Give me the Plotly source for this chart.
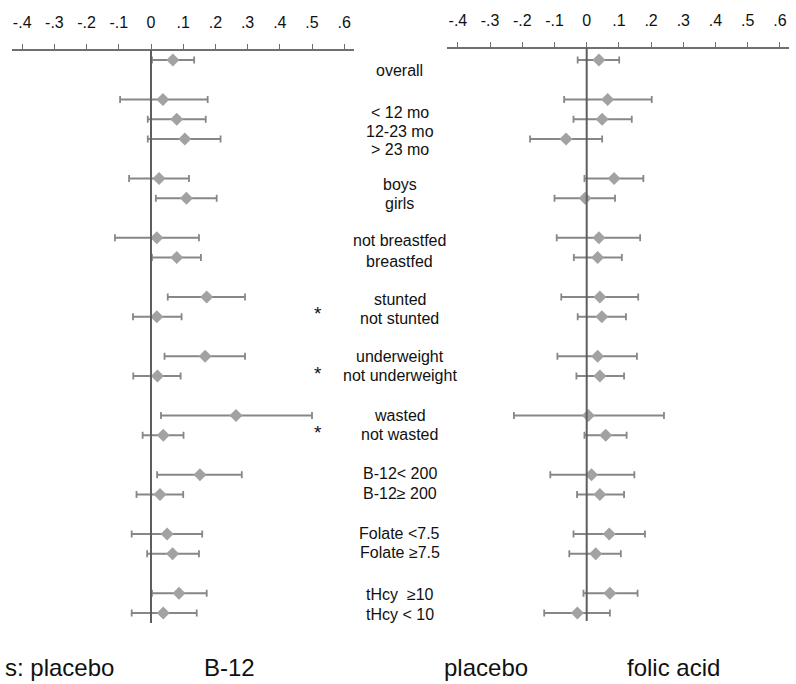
import plotly.graph_objects as go

# ---------------- data ----------------
labels = ["overall", "< 12 mo", "12-23 mo", "> 23 mo", "boys", "girls",
          "not breastfed", "breastfed", "stunted", "not stunted",
          "underweight", "not underweight", "wasted", "not wasted",
          "B-12< 200", "B-12\u2265 200", "Folate <7.5", "Folate \u22657.5",
          "tHcy  \u226510", "tHcy < 10"]
rows = [0, 2, 3, 4, 6, 7, 9, 10, 12, 13, 15, 16, 18, 19, 21, 22, 24, 25, 27, 28]

b12_est = [0.068, 0.037, 0.080, 0.105, 0.025, 0.110, 0.018, 0.080, 0.173, 0.018,
           0.168, 0.020, 0.264, 0.038, 0.152, 0.028, 0.050, 0.067, 0.087, 0.038]
b12_lo = [0.003, -0.096, -0.010, -0.010, -0.068, 0.015, -0.112, 0.003, 0.052, -0.056,
          0.042, -0.055, 0.031, -0.026, 0.019, -0.045, -0.060, -0.012, 0.003, -0.060]
b12_hi = [0.134, 0.176, 0.170, 0.216, 0.118, 0.204, 0.149, 0.155, 0.292, 0.095,
          0.292, 0.092, 0.500, 0.101, 0.282, 0.100, 0.159, 0.149, 0.173, 0.142]

fa_est = [0.038, 0.065, 0.048, -0.064, 0.085, -0.005, 0.038, 0.034, 0.041, 0.047,
          0.034, 0.041, 0.005, 0.059, 0.015, 0.041, 0.070, 0.028, 0.072, -0.029]
fa_lo = [-0.028, -0.070, -0.041, -0.176, -0.007, -0.100, -0.093, -0.040, -0.079, -0.028,
         -0.091, -0.032, -0.226, -0.007, -0.113, -0.030, -0.041, -0.054, -0.010, -0.132]
fa_hi = [0.101, 0.202, 0.140, 0.048, 0.176, 0.088, 0.166, 0.109, 0.160, 0.122,
         0.156, 0.116, 0.240, 0.124, 0.148, 0.116, 0.181, 0.106, 0.158, 0.072]

star_rows = [12.5, 15.5, 18.5]

tick_vals = [-0.4, -0.3, -0.2, -0.1, 0, 0.1, 0.2, 0.3, 0.4, 0.5, 0.6]
tick_text = ["-.4", "-.3", "-.2", "-.1", "0", ".1", ".2", ".3", ".4", ".5", ".6"]

bottom_texts = ["s: placebo", "B-12", "placebo", "folic acid"]

# ---------------- layout helpers ----------------
W, H = 796, 684
ROW_PX = 19.75
ROW0_PX = 60.0
label_shift_px = [-10, -12.5, -12, -10, -5.5, -5, -3, -3.5, -2, -2,
                  0, 1, 0.5, 1, 1, 1.5, 1, 1.5, -1, -1]

FONT = "Liberation Sans, Arial, Helvetica, sans-serif"
MARK_C = "#a2a2a2"
ERR_C = "#878787"
AX_C = "#707070"

def err(est, lo, hi):
    return dict(type="data", symmetric=False,
                array=[h - e for e, h in zip(est, hi)],
                arrayminus=[e - l for e, l in zip(est, lo)],
                color=ERR_C, thickness=1.8, width=3.5)

fig = go.Figure()
fig.add_trace(go.Scatter(x=b12_est, y=rows, mode="markers", xaxis="x", yaxis="y",
                         marker=dict(symbol="diamond", size=10, color=MARK_C),
                         error_x=err(b12_est, b12_lo, b12_hi), showlegend=False))
fig.add_trace(go.Scatter(x=fa_est, y=rows, mode="markers", xaxis="x2", yaxis="y",
                         marker=dict(symbol="diamond", size=10, color=MARK_C),
                         error_x=err(fa_est, fa_lo, fa_hi), showlegend=False))

def xaxis(dom_px, zero_px, axis_y_px):
    return dict(domain=[dom_px[0] / W, dom_px[1] / W],
                range=[(dom_px[0] - zero_px) / 322.0, (dom_px[1] - zero_px) / 322.0],
                side="top", anchor="free", position=1 - axis_y_px / H,
                showline=True, linecolor=AX_C, linewidth=1.5,
                ticks="outside", ticklen=5, tickwidth=1.2, tickcolor=AX_C,
                tickvals=tick_vals, ticktext=tick_text,
                tickfont=dict(family=FONT, size=16, color="#111"),
                ticklabelstandoff=10,
                showgrid=False, zeroline=False, fixedrange=True)

top_idx = -ROW0_PX / ROW_PX
bot_idx = (H - ROW0_PX) / ROW_PX

fig.update_layout(
    width=W, height=H, margin=dict(l=0, r=0, t=0, b=0),
    paper_bgcolor="white", plot_bgcolor="white",
    xaxis=xaxis((12, 354), 151.0, 50),
    xaxis2=xaxis((447, 789), 586.7, 48),
    yaxis=dict(domain=[0, 1], range=[bot_idx, top_idx], visible=False,
               fixedrange=True, anchor="x"),
    font=dict(family=FONT, color="#111"),
)

# zero lines
for xr, top in (("x", 50), ("x2", 48)):
    fig.add_shape(type="line", xref=xr, yref="paper", x0=0, x1=0,
                  y0=1 - (top - 25 + 598) / H, y1=1 - top / H,
                  line=dict(color="#5e5e5e", width=2))

# row labels
for lab, r, s in zip(labels, rows, label_shift_px):
    fig.add_annotation(x=400 / W, xref="paper", y=r, yref="y", text=lab,
                       showarrow=False, xanchor="center", yanchor="middle",
                       yshift=s, font=dict(size=16, family=FONT, color="#111"))

# asterisks
for r in star_rows:
    fig.add_annotation(x=318 / W, xref="paper", y=r, yref="y", text="*",
                       showarrow=False, xanchor="center", yanchor="middle",
                       yshift=-7, font=dict(size=19, family=FONT, color="#111"))

# bottom captions
bx = [(3, "left"), (230, "center"), (486, "center"), (673, "center")]
for t, (px, anc) in zip(bottom_texts, bx):
    fig.add_annotation(x=px / W, xref="paper", y=0, yref="paper", text=t,
                       showarrow=False, xanchor=anc, yanchor="bottom", yshift=1,
                       font=dict(size=24, family=FONT, color="#111"))

fig.write_html("out.html", config={"displayModeBar": False},
               post_script="document.body.style.margin='0';")
